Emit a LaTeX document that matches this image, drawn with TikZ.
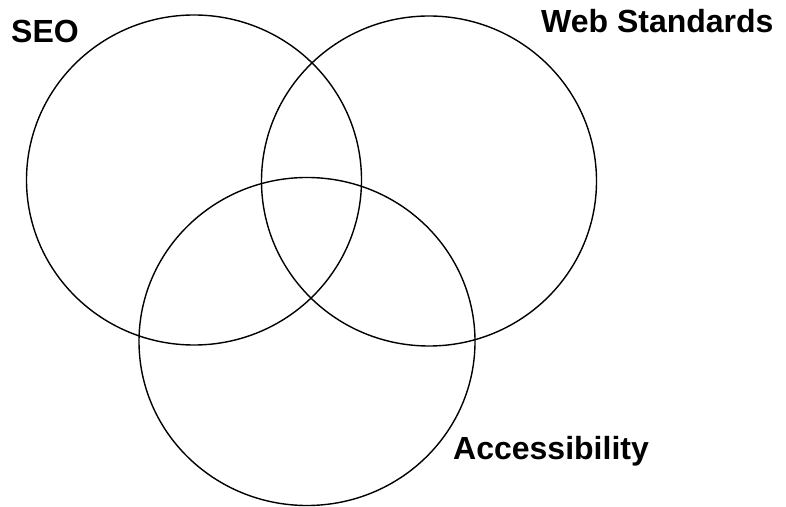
\documentclass[tikz,border=0pt]{standalone}
\usepackage{fontspec}
\setmainfont{Liberation Sans}
\begin{document}
\begin{tikzpicture}[x=1pt,y=1pt,
  ring/.style={draw=black,line width=1.4pt},
  lbl/.style={anchor=base west,inner sep=0pt,font=\fontsize{32}{38}\selectfont\bfseries}]
\useasboundingbox (0,0) rectangle (786,506);
\draw[ring] (194,326) ellipse [x radius=167.5,y radius=165];
\draw[ring] (429,325) ellipse [x radius=167.5,y radius=165];
\draw[ring] (307,164.5) ellipse [x radius=168,y radius=164];
\node[lbl] (seo) at (11,463) {SEO};
\node[lbl] (web) at (541,473) {Web Standards};
\node[lbl] (acc) at (453,47) {Accessibility};
\end{tikzpicture}
\end{document}
